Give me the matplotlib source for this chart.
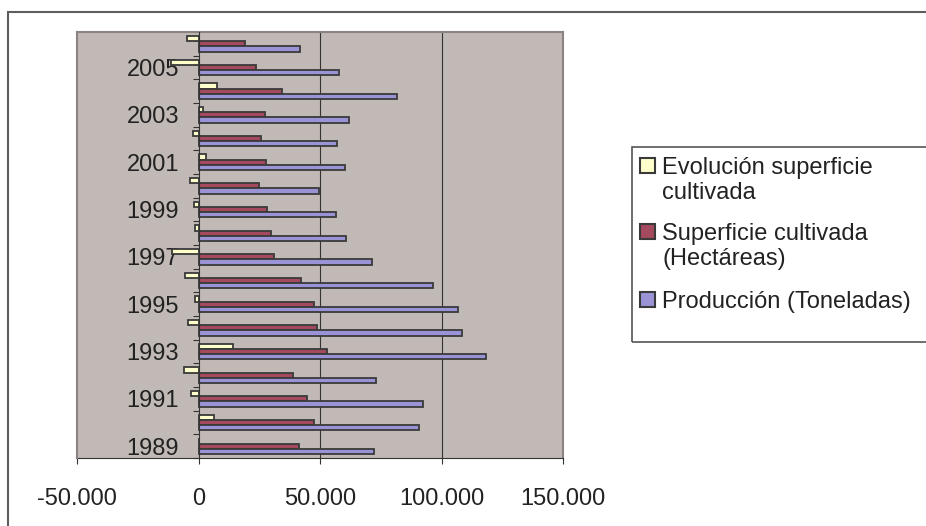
import numpy as np
import matplotlib.pyplot as plt
from matplotlib.patches import Rectangle

# Datos por campaña (1989-2006)
anios = list(range(1989, 2007))
produccion = [72300, 90900, 92400, 73100, 118400, 108500, 106600, 96300, 71300,
              60900, 56400, 49700, 60200, 57100, 61900, 81500, 57800, 41600]
superficie = [41400, 47600, 44700, 38800, 53000, 48800, 47500, 42300, 31000,
              29800, 28300, 25100, 27700, 25700, 27300, 34200, 23700, 19300]
evolucion = [0, 6300, -3000, -6000, 14300, -4300, -1500, -5400, -10800,
             -1400, -1900, -3300, 2900, -2200, 1800, 7700, -11500, -4600]

etiquetas = ["Evolución superficie\ncultivada",
             "Superficie cultivada\n(Hectáreas)",
             "Producción (Toneladas)"]
colores = ["#FFFFCC", "#A4495E", "#9A94D6"]
x_ticks = [-50000, 0, 50000, 100000, 150000]
x_labels = ["-50.000", "0", "50.000", "100.000", "150.000"]

plt.rcParams['font.family'] = ['Liberation Sans', 'DejaVu Sans']
plt.rcParams['font.size'] = 17
texto = "#222222"
borde = "#3a3a3a"
marco = "#8c8480"

W, H = 926, 526
fig = plt.figure(figsize=(W / 100, H / 100), dpi=100)
ax = fig.add_axes([77 / W, 1 - 458 / H, (563 - 77) / W, (458 - 32) / H])
ax.set_facecolor("#C1B9B6")

y = np.arange(len(anios))
h = 1 / 4.5  # hueco del 150%
series = [evolucion, superficie, produccion]
for k, (vals, col) in enumerate(zip(series, colores)):
    ax.barh(y + (1 - k) * h, vals, height=h, color=col, edgecolor=borde,
            linewidth=1.3, zorder=3)

ax.set_xlim(-50000, 150000)
ax.set_ylim(-0.5, len(anios) - 0.5)

# lineas de division
for xv in (50000, 100000):
    ax.axvline(xv, color="#333333", lw=0.8, zorder=1)
ax.axvline(-50000, color=marco, lw=1.5, zorder=4, clip_on=False)

ax.set_xticks(x_ticks)
ax.set_xticklabels(x_labels, color=texto)
ax.tick_params(axis='x', direction='out', length=4.5, width=0.8,
               color="#333333", pad=17)

# eje vertical en el cero
ax.spines['left'].set_position(('data', 0))
ax.spines['left'].set_color("#333333")
ax.spines['left'].set_linewidth(0.8)
ax.spines['left'].set_zorder(5)
ax.spines['bottom'].set_color("#333333")
ax.spines['bottom'].set_linewidth(0.8)
for s in ('top', 'right'):
    ax.spines[s].set_color(marco)
    ax.spines[s].set_linewidth(1.5)

ax.set_yticks(np.arange(len(anios) + 1) - 0.5)
ax.set_yticklabels([])
ax.tick_params(axis='y', which='major', direction='out', length=4,
               width=0.8, color="#333333")
ax.set_yticks(y[::2], minor=True)
ax.set_yticklabels([str(a) for a in anios[::2]], minor=True, color=texto)
ax.tick_params(axis='y', which='minor', length=0, pad=14)
ax.yaxis.set_zorder(2)  # las barras quedan por encima de los años

# marco exterior
fig.add_artist(Rectangle((8 / W, -0.05), 1.1, 1 - 12 / H + 0.05,
                         transform=fig.transFigure, fill=False,
                         edgecolor="#5e5e5e", lw=1.5, clip_on=False))

# leyenda
fig.add_artist(Rectangle((632 / W, 1 - 342 / H), 1.0, (342 - 147) / H,
                         transform=fig.transFigure, fill=False,
                         edgecolor="#555555", lw=1.2, clip_on=False))
filas = [174, 240, 308]   # linea base del primer renglón
interlinea = 25
for lab, col, yb in zip(etiquetas, colores, filas):
    fig.add_artist(Rectangle((640 / W, 1 - (yb - 1) / H), 15 / W, 15 / H,
                             transform=fig.transFigure, facecolor=col,
                             edgecolor=borde, lw=1.5))
    ultima = yb + interlinea * lab.count("\n")
    fig.text(662 / W, 1 - ultima / H, lab, va='baseline', ha='left',
             color=texto, linespacing=1.15)

fig.savefig("out.png", dpi=100)
